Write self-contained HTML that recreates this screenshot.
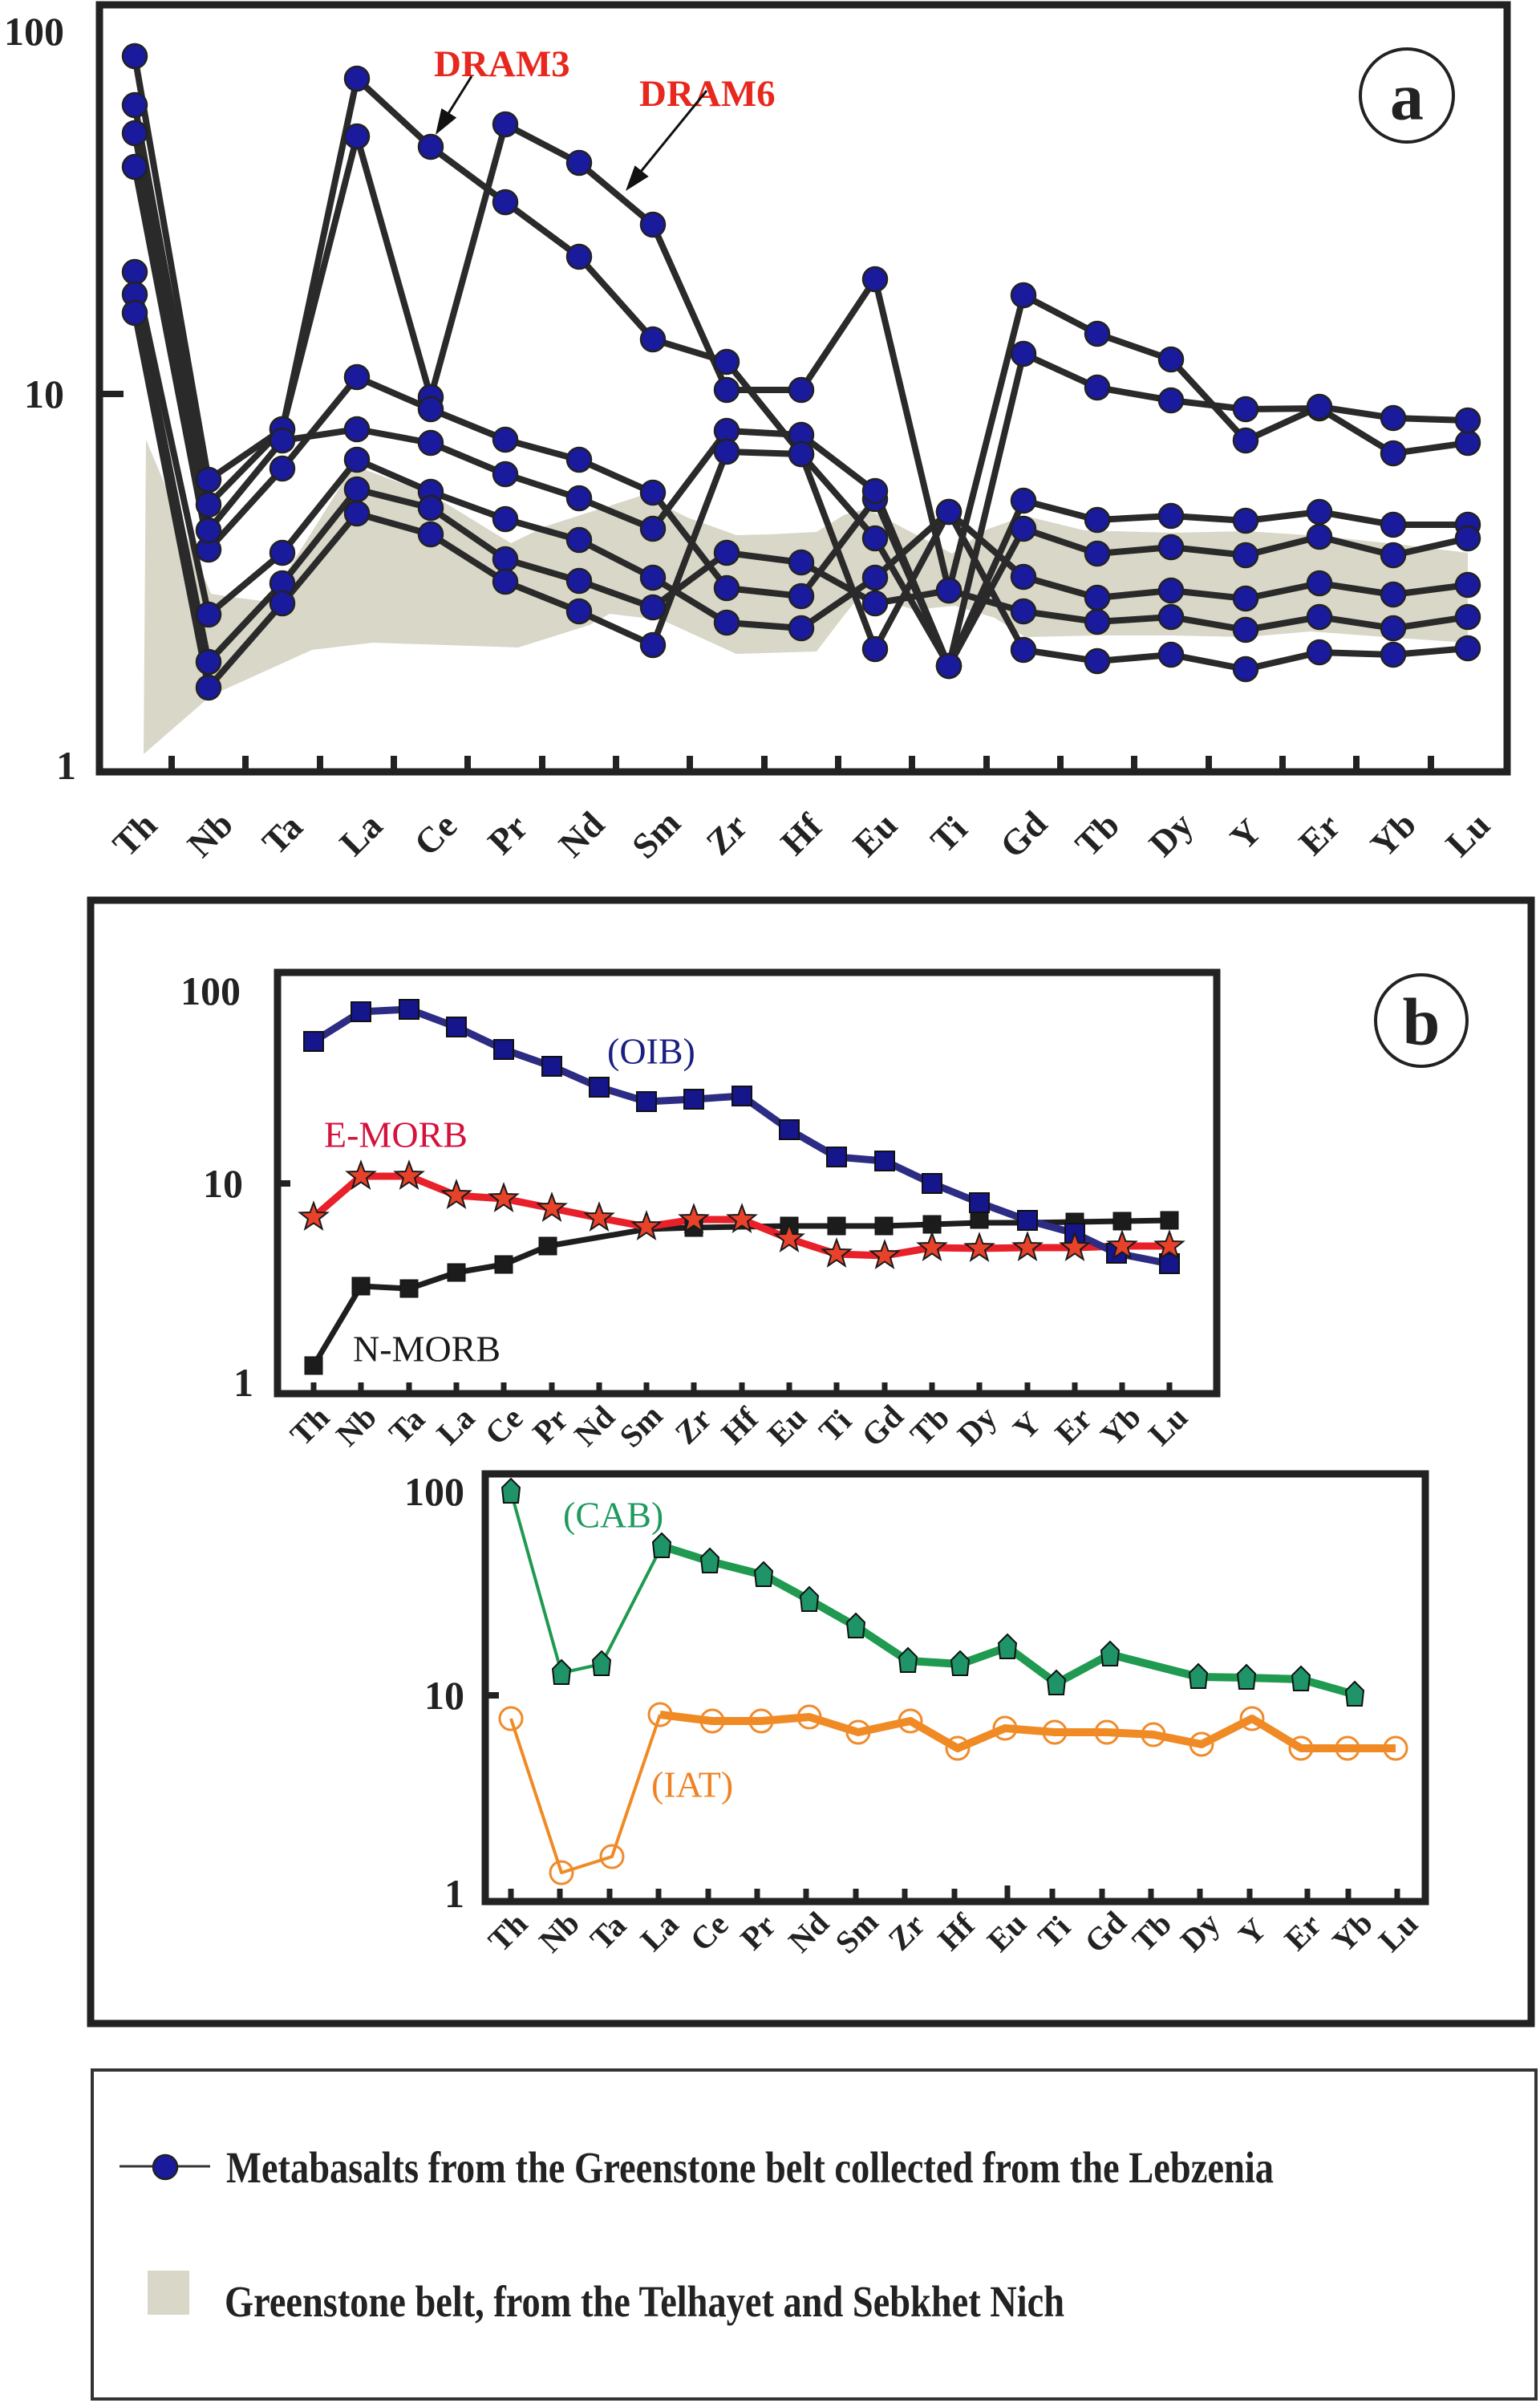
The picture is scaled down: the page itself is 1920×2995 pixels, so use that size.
<!DOCTYPE html>
<html>
<head>
<meta charset="utf-8">
<style>
  html,body{margin:0;padding:0;background:#fff;}
  svg{display:block;}
  .lbl{font-family:"Liberation Serif",serif;font-weight:bold;fill:#222;}
  .ser{font-family:"Liberation Serif",serif;}
  .pa{fill:none;stroke:#2a2a2a;stroke-width:8;stroke-linejoin:round;stroke-linecap:round;}
  .pam{fill:none;stroke:none;marker-start:url(#dot);marker-mid:url(#dot);marker-end:url(#dot);}
</style>
</head>
<body>
<svg width="1920" height="2995" viewBox="0 0 1920 2995" xmlns="http://www.w3.org/2000/svg">
<defs>
  <marker id="dot" markerUnits="userSpaceOnUse" markerWidth="36" markerHeight="36" refX="18" refY="18" overflow="visible">
    <circle cx="18" cy="18" r="15" fill="#1a1a9c" stroke="#222" stroke-width="2.5"/>
  </marker>
  <marker id="sqb" markerUnits="userSpaceOnUse" markerWidth="30" markerHeight="30" refX="15" refY="15" overflow="visible">
    <rect x="3" y="3" width="24" height="24" fill="#15158c" stroke="#111" stroke-width="2"/>
  </marker>
  <marker id="sqk" markerUnits="userSpaceOnUse" markerWidth="30" markerHeight="30" refX="15" refY="15" overflow="visible">
    <rect x="4" y="4" width="22" height="22" fill="#1c1c1c" stroke="#111" stroke-width="1"/>
  </marker>
  <marker id="star" markerUnits="userSpaceOnUse" markerWidth="40" markerHeight="40" refX="20" refY="20" overflow="visible">
    <polygon transform="translate(20,20)" points="0,-18 4.4,-6 17.1,-5.6 7,2.3 10.6,14.6 0,7.4 -10.6,14.6 -7,2.3 -17.1,-5.6 -4.4,-6" fill="#e8432a" stroke="#1a1a1a" stroke-width="2"/>
  </marker>
  <marker id="pent" markerUnits="userSpaceOnUse" markerWidth="40" markerHeight="40" refX="20" refY="20" overflow="visible">
    <polygon transform="translate(20,20)" points="0,-16 11,-5 9,14 -9,14 -11,-5" fill="#1e9468" stroke="#111" stroke-width="2"/>
  </marker>
  <marker id="ocir" markerUnits="userSpaceOnUse" markerWidth="40" markerHeight="40" refX="20" refY="20" overflow="visible">
    <circle cx="20" cy="20" r="14" fill="none" stroke="#f08a2a" stroke-width="3"/>
  </marker>
</defs>

<rect width="1920" height="2995" fill="#fff"/>

<!-- ================= PANEL A ================= -->
<polygon fill="#d9d7c8" points="182,548 263,740 288,744 334,750 441,580 539,617 637,677 680,656 802,617 857,645 918,667 960,666 1018,663 1052,642 1080,634 1130,660 1187,690 1230,660 1278,643 1352,661 1462,664 1554,662 1646,668 1740,678 1830,689 1830,801 1740,795 1634,787 1554,794 1460,792 1368,792 1278,794 1240,770 1190,755 1140,760 1074,740 1050,770 1018,812 918,815 826,773 760,765 735,779 646,807 465,801 389,810 263,867 179,940"/>

<!-- series lines -->
<polyline class="pa" points="168,70 260,598 352,535 445,98 537,183 630,252 722,320 814,423 906,451 999,566 1091,671 1183,830 1276,441 1368,483 1460,499 1553,510 1645,509 1737,565 1830,552"/>
<polyline class="pa" points="168,131 260,629 352,535 445,170 537,495 630,155 722,203 814,280 906,486 999,486 1091,348 1183,736 1276,368 1368,416 1460,448 1553,549 1645,507 1737,521 1830,524"/>
<polyline class="pa" points="168,208 260,685 352,584 445,470 537,510 630,548 722,573 814,614 906,733 999,743 1091,622 1183,830 1276,624 1368,648 1460,643 1553,649 1645,638 1737,654 1830,654"/>
<polyline class="pa" points="168,166 260,661 352,549 445,535 537,552 630,591 722,621 814,659 906,537 999,542 1091,612 1183,830 1276,659 1368,690 1460,682 1553,692 1645,669 1737,692 1830,671"/>
<polyline class="pa" points="168,339 260,766 352,689 445,573 537,613 630,647 722,673 814,720 906,776 999,783 1091,720 1183,638 1276,719 1368,745 1460,736 1553,746 1645,727 1737,741 1830,729"/>
<polyline class="pa" points="168,367 260,825 352,727 445,610 537,633 630,697 722,724 814,757 906,689 999,701 1091,752 1183,736 1276,762 1368,775 1460,769 1553,785 1645,769 1737,783 1830,769"/>
<polyline class="pa" points="168,390 260,857 352,752 445,640 537,666 630,725 722,762 814,804 906,563 999,566 1091,809 1183,638 1276,810 1368,824 1460,816 1553,834 1645,813 1737,816 1830,808"/>

<!-- markers -->
<polyline class="pam" points="168,70 260,598 352,535 445,98 537,183 630,252 722,320 814,423 906,451 999,566 1091,671 1183,830 1276,441 1368,483 1460,499 1553,510 1645,509 1737,565 1830,552"/>
<polyline class="pam" points="168,131 260,629 352,535 445,170 537,495 630,155 722,203 814,280 906,486 999,486 1091,348 1183,736 1276,368 1368,416 1460,448 1553,549 1645,507 1737,521 1830,524"/>
<polyline class="pam" points="168,208 260,685 352,584 445,470 537,510 630,548 722,573 814,614 906,733 999,743 1091,622 1183,830 1276,624 1368,648 1460,643 1553,649 1645,638 1737,654 1830,654"/>
<polyline class="pam" points="168,166 260,661 352,549 445,535 537,552 630,591 722,621 814,659 906,537 999,542 1091,612 1183,830 1276,659 1368,690 1460,682 1553,692 1645,669 1737,692 1830,671"/>
<polyline class="pam" points="168,339 260,766 352,689 445,573 537,613 630,647 722,673 814,720 906,776 999,783 1091,720 1183,638 1276,719 1368,745 1460,736 1553,746 1645,727 1737,741 1830,729"/>
<polyline class="pam" points="168,367 260,825 352,727 445,610 537,633 630,697 722,724 814,757 906,689 999,701 1091,752 1183,736 1276,762 1368,775 1460,769 1553,785 1645,769 1737,783 1830,769"/>
<polyline class="pam" points="168,390 260,857 352,752 445,640 537,666 630,725 722,762 814,804 906,563 999,566 1091,809 1183,638 1276,810 1368,824 1460,816 1553,834 1645,813 1737,816 1830,808"/>

<!-- frame -->
<rect x="124" y="6" width="1755" height="956" fill="none" stroke="#222" stroke-width="9"/>
<line x1="124" y1="491" x2="154" y2="491" stroke="#222" stroke-width="8"/>
<g stroke="#222" stroke-width="8">
  <line x1="214" y1="942" x2="214" y2="962"/><line x1="306" y1="942" x2="306" y2="962"/>
  <line x1="399" y1="942" x2="399" y2="962"/><line x1="491" y1="942" x2="491" y2="962"/>
  <line x1="583" y1="942" x2="583" y2="962"/><line x1="676" y1="942" x2="676" y2="962"/>
  <line x1="768" y1="942" x2="768" y2="962"/><line x1="860" y1="942" x2="860" y2="962"/>
  <line x1="953" y1="942" x2="953" y2="962"/><line x1="1045" y1="942" x2="1045" y2="962"/>
  <line x1="1137" y1="942" x2="1137" y2="962"/><line x1="1230" y1="942" x2="1230" y2="962"/>
  <line x1="1322" y1="942" x2="1322" y2="962"/><line x1="1414" y1="942" x2="1414" y2="962"/>
  <line x1="1507" y1="942" x2="1507" y2="962"/><line x1="1599" y1="942" x2="1599" y2="962"/>
  <line x1="1691" y1="942" x2="1691" y2="962"/><line x1="1784" y1="942" x2="1784" y2="962"/>
</g>

<!-- y labels panel a -->
<g class="lbl" font-size="50" text-anchor="end" dominant-baseline="central">
  <text x="80" y="39">100</text>
  <text x="80" y="491">10</text>
  <text x="95" y="954">1</text>
</g>

<!-- x labels panel a -->
<g class="lbl" font-size="45" text-anchor="middle" dominant-baseline="central">
  <text transform="translate(168,1040) rotate(-45)">Th</text>
  <text transform="translate(262,1040) rotate(-45)">Nb</text>
  <text transform="translate(352,1040) rotate(-45)">Ta</text>
  <text transform="translate(450,1040) rotate(-45)">La</text>
  <text transform="translate(543,1040) rotate(-45)">Ce</text>
  <text transform="translate(633,1040) rotate(-45)">Pr</text>
  <text transform="translate(725,1040) rotate(-45)">Nd</text>
  <text transform="translate(818,1040) rotate(-45)">Sm</text>
  <text transform="translate(906,1040) rotate(-45)">Zr</text>
  <text transform="translate(999,1040) rotate(-45)">Hf</text>
  <text transform="translate(1091,1040) rotate(-45)">Eu</text>
  <text transform="translate(1183,1040) rotate(-45)">Ti</text>
  <text transform="translate(1276,1040) rotate(-45)">Gd</text>
  <text transform="translate(1368,1040) rotate(-45)">Tb</text>
  <text transform="translate(1460,1040) rotate(-45)">Dy</text>
  <text transform="translate(1553,1040) rotate(-45)">Y</text>
  <text transform="translate(1645,1040) rotate(-45)">Er</text>
  <text transform="translate(1737,1040) rotate(-45)">Yb</text>
  <text transform="translate(1830,1040) rotate(-45)">Lu</text>
</g>

<!-- DRAM labels & arrows -->
<g class="ser" font-weight="bold" font-size="47" fill="#e8281e" dominant-baseline="central">
  <text x="541" y="80">DRAM3</text>
  <text x="797" y="117">DRAM6</text>
</g>
<line x1="588" y1="95" x2="558" y2="143" stroke="#111" stroke-width="3"/>
<polygon points="543,168 569.2,146.6 550.4,135.0" fill="#111"/>
<line x1="881" y1="113" x2="798" y2="215" stroke="#111" stroke-width="3"/>
<polygon points="780,238 808.7,220.0 791.5,206.2" fill="#111"/>

<!-- a label -->
<circle cx="1754" cy="119" r="58" fill="#fff" stroke="#222" stroke-width="4"/>
<text class="lbl" x="1754" y="121" font-size="84" text-anchor="middle" dominant-baseline="central">a</text>

<!-- ================= PANEL B ================= -->
<rect x="113" y="1122" width="1796" height="1400" fill="none" stroke="#222" stroke-width="9"/>
<circle cx="1772" cy="1272" r="57" fill="#fff" stroke="#222" stroke-width="4"/>
<text class="lbl" x="1772" y="1274" font-size="84" text-anchor="middle" dominant-baseline="central">b</text>

<!-- upper chart -->
<!-- N-MORB -->
<polyline fill="none" stroke="#1e1e1e" stroke-width="7" stroke-linejoin="round" points="391,1702 450,1603 510,1606 569,1586 628,1576 683,1553 806,1532 865,1530 925,1529 984,1528 1043,1528 1102,1528 1162,1526 1221,1524 1281,1524 1340,1523 1399,1522 1458,1521"/>
<!-- E-MORB -->
<polyline fill="none" stroke="#e8202a" stroke-width="9" stroke-linejoin="round" points="391,1517 450,1466 510,1466 569,1490 628,1494 688,1506 747,1518 806,1529 865,1520 925,1520 984,1544 1043,1563 1103,1565 1162,1555 1221,1556 1281,1555 1340,1555 1399,1553 1458,1553"/>
<!-- OIB -->
<polyline fill="none" stroke="#2c2c84" stroke-width="9" stroke-linejoin="round" points="391,1298 450,1261 510,1258 569,1280 628,1308 688,1329 747,1355 806,1373 865,1370 925,1366 984,1408 1043,1442 1103,1447 1162,1475 1221,1499 1281,1521 1340,1537 1392,1562 1458,1575"/>
<polyline fill="none" stroke="none" marker-start="url(#sqk)" marker-mid="url(#sqk)" marker-end="url(#sqk)" points="391,1702 450,1603 510,1606 569,1586 628,1576 683,1553 865,1530 984,1528 1043,1528 1102,1528 1162,1526 1221,1520 1340,1523 1399,1522 1458,1521"/>
<polyline fill="none" stroke="none" marker-start="url(#sqb)" marker-mid="url(#sqb)" marker-end="url(#sqb)" points="391,1298 450,1261 510,1258 569,1280 628,1308 688,1329 747,1355 806,1373 865,1370 925,1366 984,1408 1043,1442 1103,1447 1162,1475 1221,1499 1281,1521 1340,1537 1392,1562 1458,1575"/>
<polyline fill="none" stroke="none" marker-start="url(#star)" marker-mid="url(#star)" marker-end="url(#star)" points="391,1517 450,1466 510,1466 569,1490 628,1494 688,1506 747,1518 806,1529 865,1520 925,1520 984,1544 1043,1563 1103,1565 1162,1555 1221,1556 1281,1555 1340,1555 1399,1553 1458,1553"/>

<rect x="346" y="1212" width="1171" height="525" fill="none" stroke="#222" stroke-width="9"/>
<line x1="346" y1="1475" x2="362" y2="1475" stroke="#222" stroke-width="8"/>
<g stroke="#222" stroke-width="7">
  <line x1="391" y1="1723" x2="391" y2="1737"/><line x1="450" y1="1723" x2="450" y2="1737"/>
  <line x1="510" y1="1723" x2="510" y2="1737"/><line x1="569" y1="1723" x2="569" y2="1737"/>
  <line x1="628" y1="1723" x2="628" y2="1737"/><line x1="688" y1="1723" x2="688" y2="1737"/>
  <line x1="747" y1="1723" x2="747" y2="1737"/><line x1="806" y1="1723" x2="806" y2="1737"/>
  <line x1="865" y1="1723" x2="865" y2="1737"/><line x1="925" y1="1723" x2="925" y2="1737"/>
  <line x1="984" y1="1723" x2="984" y2="1737"/><line x1="1043" y1="1723" x2="1043" y2="1737"/>
  <line x1="1103" y1="1723" x2="1103" y2="1737"/><line x1="1162" y1="1723" x2="1162" y2="1737"/>
  <line x1="1221" y1="1723" x2="1221" y2="1737"/><line x1="1281" y1="1723" x2="1281" y2="1737"/>
  <line x1="1340" y1="1723" x2="1340" y2="1737"/><line x1="1399" y1="1723" x2="1399" y2="1737"/>
  <line x1="1458" y1="1723" x2="1458" y2="1737"/>
</g>
<g class="lbl" font-size="50" text-anchor="end" dominant-baseline="central">
  <text x="300" y="1235">100</text>
  <text x="303" y="1475">10</text>
  <text x="316" y="1723">1</text>
</g>
<g class="lbl" font-size="40" text-anchor="middle" dominant-baseline="central">
  <text transform="translate(386,1777) rotate(-45)">Th</text>
  <text transform="translate(444,1777) rotate(-45)">Nb</text>
  <text transform="translate(507,1777) rotate(-45)">Ta</text>
  <text transform="translate(568,1777) rotate(-45)">La</text>
  <text transform="translate(628,1777) rotate(-45)">Ce</text>
  <text transform="translate(686,1777) rotate(-45)">Pr</text>
  <text transform="translate(741,1777) rotate(-45)">Nd</text>
  <text transform="translate(799,1777) rotate(-45)">Sm</text>
  <text transform="translate(864,1777) rotate(-45)">Zr</text>
  <text transform="translate(922,1777) rotate(-45)">Hf</text>
  <text transform="translate(981,1777) rotate(-45)">Eu</text>
  <text transform="translate(1041,1777) rotate(-45)">Ti</text>
  <text transform="translate(1100,1777) rotate(-45)">Gd</text>
  <text transform="translate(1159,1777) rotate(-45)">Tb</text>
  <text transform="translate(1218,1777) rotate(-45)">Dy</text>
  <text transform="translate(1280,1777) rotate(-45)">Y</text>
  <text transform="translate(1338,1777) rotate(-45)">Er</text>
  <text transform="translate(1397,1777) rotate(-45)">Yb</text>
  <text transform="translate(1456,1777) rotate(-45)">Lu</text>
</g>
<g class="ser" font-size="46" dominant-baseline="central">
  <text x="757" y="1310" fill="#1b1f80">(OIB)</text>
  <text x="404" y="1414" fill="#d4123c">E-MORB</text>
  <text x="440" y="1681" fill="#1a1a1a">N-MORB</text>
</g>

<!-- lower chart -->
<polyline fill="none" stroke="#1f9a50" stroke-width="4" stroke-linejoin="round" points="637,1859 700,2085 750,2074 825,1927"/>
<polyline fill="none" stroke="#1f9a50" stroke-width="10" stroke-linejoin="round" points="825,1927 885,1946 952,1963 1009,1994 1067,2027 1132,2070 1197,2074 1256,2053 1317,2098 1384,2062 1494,2090 1554,2091 1622,2093 1689,2112"/>
<polyline fill="none" stroke="#f08a24" stroke-width="4" stroke-linejoin="round" points="637,2142 700,2334 763,2314 823,2137"/>
<polyline fill="none" stroke="#f08a24" stroke-width="10" stroke-linejoin="round" points="823,2137 888,2145 949,2145 1009,2140 1070,2159 1135,2145 1194,2179 1253,2154 1315,2159 1380,2159 1438,2162 1498,2174 1561,2142 1622,2179 1680,2179 1740,2179"/>
<polyline fill="none" stroke="none" marker-start="url(#pent)" marker-mid="url(#pent)" marker-end="url(#pent)" points="637,1859 700,2085 750,2074 825,1927 885,1946 952,1963 1009,1994 1067,2027 1132,2070 1197,2074 1256,2053 1317,2098 1384,2062 1494,2090 1554,2091 1622,2093 1689,2112"/>
<polyline fill="none" stroke="none" marker-start="url(#ocir)" marker-mid="url(#ocir)" marker-end="url(#ocir)" points="637,2142 700,2334 763,2314 823,2137 888,2145 949,2145 1009,2140 1070,2159 1135,2145 1194,2179 1253,2154 1315,2159 1380,2159 1438,2162 1498,2174 1561,2142 1622,2179 1680,2179 1740,2179"/>

<rect x="605" y="1837" width="1172" height="533" fill="none" stroke="#222" stroke-width="9"/>
<line x1="605" y1="2113" x2="622" y2="2113" stroke="#222" stroke-width="8"/>
<g stroke="#222" stroke-width="7">
  <line x1="637" y1="2354" x2="637" y2="2370"/><line x1="698" y1="2354" x2="698" y2="2370"/>
  <line x1="760" y1="2354" x2="760" y2="2370"/><line x1="821" y1="2354" x2="821" y2="2370"/>
  <line x1="883" y1="2354" x2="883" y2="2370"/><line x1="944" y1="2354" x2="944" y2="2370"/>
  <line x1="1005" y1="2354" x2="1005" y2="2370"/><line x1="1067" y1="2354" x2="1067" y2="2370"/>
  <line x1="1128" y1="2354" x2="1128" y2="2370"/><line x1="1190" y1="2354" x2="1190" y2="2370"/>
  <line x1="1256" y1="2350" x2="1256" y2="2370"/><line x1="1312" y1="2354" x2="1312" y2="2370"/>
  <line x1="1374" y1="2354" x2="1374" y2="2370"/><line x1="1435" y1="2354" x2="1435" y2="2370"/>
  <line x1="1496" y1="2354" x2="1496" y2="2370"/><line x1="1558" y1="2354" x2="1558" y2="2370"/>
  <line x1="1630" y1="2354" x2="1630" y2="2370"/><line x1="1681" y1="2354" x2="1681" y2="2370"/>
  <line x1="1742" y1="2354" x2="1742" y2="2370"/>
</g>
<g class="lbl" font-size="50" text-anchor="end" dominant-baseline="central">
  <text x="579" y="1859">100</text>
  <text x="579" y="2113">10</text>
  <text x="579" y="2360">1</text>
</g>
<g class="lbl" font-size="40" text-anchor="middle" dominant-baseline="central">
  <text transform="translate(633,2408) rotate(-45)">Th</text>
  <text transform="translate(697,2408) rotate(-45)">Nb</text>
  <text transform="translate(758,2408) rotate(-45)">Ta</text>
  <text transform="translate(822,2408) rotate(-45)">La</text>
  <text transform="translate(884,2408) rotate(-45)">Ce</text>
  <text transform="translate(945,2408) rotate(-45)">Pr</text>
  <text transform="translate(1008,2408) rotate(-45)">Nd</text>
  <text transform="translate(1068,2408) rotate(-45)">Sm</text>
  <text transform="translate(1130,2408) rotate(-45)">Zr</text>
  <text transform="translate(1192,2408) rotate(-45)">Hf</text>
  <text transform="translate(1255,2408) rotate(-45)">Eu</text>
  <text transform="translate(1314,2408) rotate(-45)">Ti</text>
  <text transform="translate(1378,2408) rotate(-45)">Gd</text>
  <text transform="translate(1436,2408) rotate(-45)">Tb</text>
  <text transform="translate(1496,2408) rotate(-45)">Dy</text>
  <text transform="translate(1561,2408) rotate(-45)">Y</text>
  <text transform="translate(1624,2408) rotate(-45)">Er</text>
  <text transform="translate(1686,2408) rotate(-45)">Yb</text>
  <text transform="translate(1743,2408) rotate(-45)">Lu</text>
</g>
<g class="ser" font-size="46" dominant-baseline="central">
  <text x="702" y="1888" fill="#1e9a5e">(CAB)</text>
  <text x="812" y="2224" fill="#f08224">(IAT)</text>
</g>

<!-- ================= LEGEND ================= -->
<rect x="115" y="2580" width="1800" height="410" fill="none" stroke="#333" stroke-width="4"/>
<line x1="149" y1="2700" x2="262" y2="2700" stroke="#333" stroke-width="3"/>
<circle cx="206" cy="2701" r="15" fill="#1a1a9c" stroke="#222" stroke-width="2.5"/>
<text class="lbl" x="282" y="2720" font-size="55" textLength="1306" lengthAdjust="spacingAndGlyphs">Metabasalts from the Greenstone belt collected from the Lebzenia</text>
<rect x="184" y="2830" width="52" height="55" fill="#d9d7c8"/>
<text class="lbl" x="280" y="2887" font-size="55" textLength="1047" lengthAdjust="spacingAndGlyphs">Greenstone belt, from the Telhayet and Sebkhet Nich</text>
</svg>
</body>
</html>
